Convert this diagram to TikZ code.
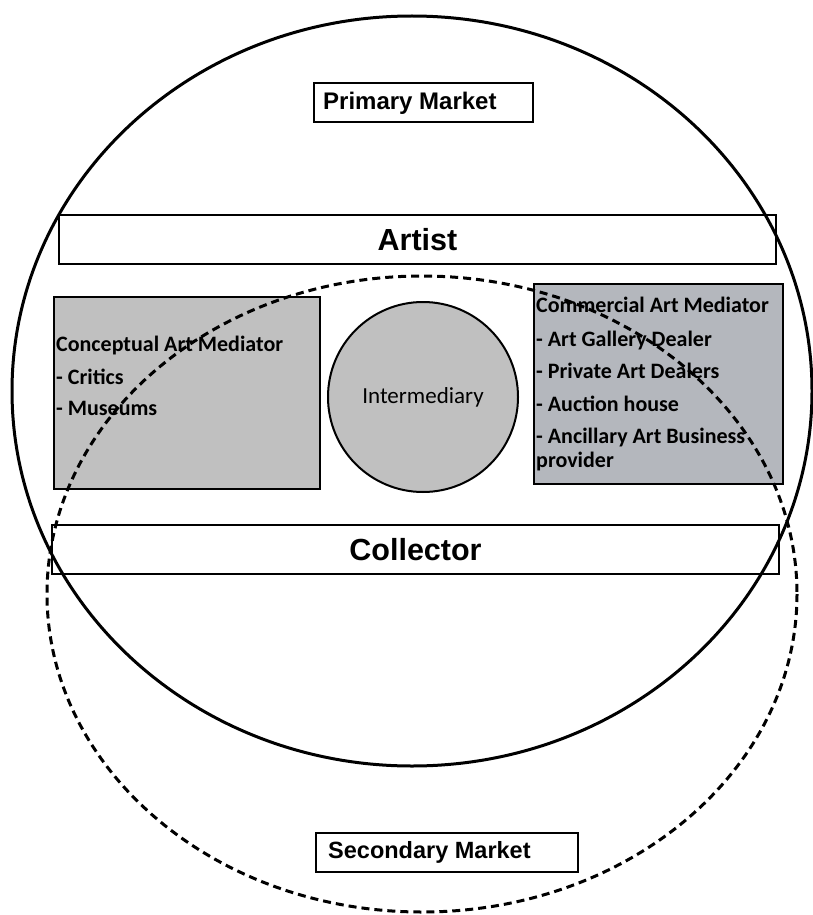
\documentclass[tikz,border=0pt]{standalone}
\usepackage{fontspec}
\setmainfont{Liberation Sans}
\newfontfamily\calib{Carlito}
\begin{document}
\begin{tikzpicture}[x=1pt,y=-1pt,
  labelbox/.style={draw, line width=2pt, fill=white, inner sep=0pt},
  bigfont/.style={font=\bfseries\fontsize{30.5}{34}\selectfont},
  marketfont/.style={font=\bfseries\fontsize{24}{28}\selectfont, inner sep=0pt, anchor=base west},
  mediatorbox/.style={draw, line width=2.5pt, inner sep=0pt},
  itemtext/.style={font=\calib\bfseries\fontsize{22}{26}\selectfont, inner sep=0pt, anchor=base west},
  marketline/.style={line width=3pt},
  overlapline/.style={line width=3pt, dash pattern=on 8pt off 5pt}
]
\useasboundingbox (0,0) rectangle (813,915);
\fill[white] (0,0) rectangle (813,915);

% market labels
\node[labelbox, minimum width=219pt, minimum height=39pt] (primary) at (423.5,102.5) {};
\node[marketfont] (primarytxt) at (323,110) {Primary Market};
\node[labelbox, minimum width=262pt, minimum height=39pt] (secondary) at (447,852.5) {};
\node[marketfont, font=\bfseries\fontsize{23.5}{28}\selectfont] (secondarytxt) at (328,858) {Secondary Market};

% actors
\node[labelbox, bigfont, minimum width=717pt, minimum height=49pt] (artist) at (417.5,239.5) {Artist};
\node[labelbox, bigfont, minimum width=727pt, minimum height=49pt] (collector) at (415.5,549.5) {Collector};

% mediators
\node[mediatorbox, fill={rgb,255:red,192;green,192;blue,192}, minimum width=266pt, minimum height=192pt] (conceptual) at (187,393) {};
\node[itemtext] (c1) at (56,351) {Conceptual Art Mediator};
\node[itemtext] (c2) at (56,384) {- Critics};
\node[itemtext] (c3) at (56,415) {- Museums};

\node[mediatorbox, fill={rgb,255:red,180;green,183;blue,189}, minimum width=249pt, minimum height=200pt] (commercial) at (658.5,384) {};
\node[itemtext] (m1) at (536,312) {Commercial Art Mediator};
\node[itemtext] (m2) at (536,346) {- Art Gallery Dealer};
\node[itemtext] (m3) at (536,378) {- Private Art Dealers};
\node[itemtext] (m4) at (536,411) {- Auction house};
\node[itemtext] (m5) at (536,443) {- Ancillary Art Business};
\node[itemtext] (m6) at (536,467) {provider};

\node[circle, draw, line width=2pt, fill={rgb,255:red,192;green,192;blue,192}, minimum size=190pt, inner sep=0pt,
      font=\calib\fontsize{23}{27}\selectfont] (intermediary) at (423,397) {Intermediary};

% market circles
\draw[marketline] (412,391) ellipse [x radius=400, y radius=375];
\draw[overlapline] (422,594) ellipse [x radius=375, y radius=318];
\end{tikzpicture}
\end{document}
